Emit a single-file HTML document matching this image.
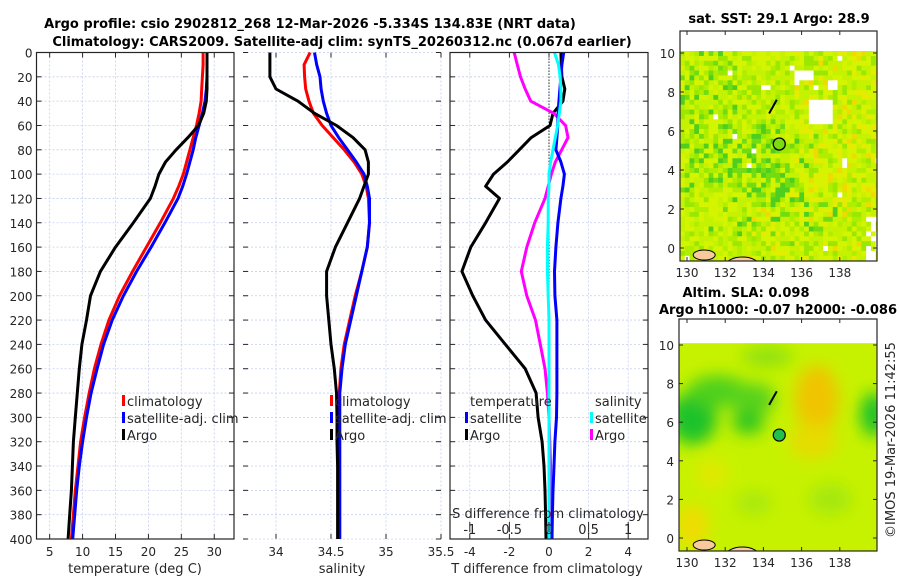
<!DOCTYPE html>
<html><head><meta charset="utf-8">
<style>
html,body{margin:0;padding:0;background:#fff;}
svg{display:block;font-family:"DejaVu Sans","Liberation Sans",sans-serif;}
.t{font-size:12px;fill:#262626;}
.l{font-size:13px;fill:#262626;}
.b{font-weight:bold;fill:#000;font-size:13px;}
</style></head>
<body>
<svg id="chart" width="900" height="580" viewBox="0 0 900 580" xmlns="http://www.w3.org/2000/svg">
<text class="b" x="310" y="28" text-anchor="middle">Argo profile: csio 2902812_268 12-Mar-2026 -5.334S 134.83E (NRT data)</text>
<text class="b" x="342" y="46" text-anchor="middle">Climatology: CARS2009. Satellite-adj clim: synTS_20260312.nc (0.067d earlier)</text>
<text class="b" x="779" y="23" text-anchor="middle">sat. SST: 29.1 Argo: 28.9</text>
<text class="b" x="746" y="297" text-anchor="middle">Altim. SLA: 0.098</text>
<text class="b" x="778" y="314" text-anchor="middle">Argo h1000: -0.07 h2000: -0.086</text>
<text class="l" transform="translate(895,440) rotate(-90)" text-anchor="middle">©IMOS 19-Mar-2026 11:42:55</text>
<g id="g"></g>
</svg>
<script>
// ---- data ----
const depths = [0,10,20,30,40,50,60,70,80,90,100,110,120,140,160,180,200,220,240,260,280,300,320,340,360,380,400];
const tempClim = [28.3,28.3,28.2,28.1,28.0,27.7,27.3,26.8,26.3,25.8,25.3,24.6,23.8,21.8,19.7,17.6,15.6,14.0,12.8,11.8,11.0,10.3,9.7,9.3,8.9,8.6,8.3];
const tempSat = [28.9,28.9,28.9,28.8,28.6,28.2,27.7,27.2,26.8,26.3,25.8,25.2,24.5,22.5,20.4,18.2,16.2,14.5,13.2,12.2,11.3,10.6,10.0,9.5,9.1,8.8,8.5];
const tempArgo = [28.9,28.9,28.9,28.9,28.8,28.4,27.6,26.0,24.2,22.6,21.6,21.0,20.3,17.7,15.0,12.7,11.2,10.6,9.9,9.5,9.2,8.9,8.6,8.45,8.3,8.05,7.8];
const salClim = [34.31,34.255,34.26,34.27,34.3,34.34,34.42,34.52,34.62,34.71,34.78,34.82,34.84,34.85,34.83,34.78,34.72,34.67,34.62,34.59,34.575,34.57,34.57,34.57,34.57,34.57,34.57];
const salSat = [34.35,34.37,34.4,34.41,34.43,34.46,34.5,34.57,34.65,34.73,34.8,34.83,34.85,34.85,34.83,34.78,34.73,34.68,34.63,34.6,34.58,34.58,34.58,34.58,34.58,34.58,34.58];
const salArgo = [33.945,33.945,33.945,34.0,34.2,34.35,34.55,34.7,34.81,34.84,34.84,34.8,34.76,34.65,34.54,34.46,34.46,34.48,34.5,34.53,34.55,34.555,34.555,34.56,34.56,34.56,34.56];
const dTsat = [0.74,0.65,0.6,0.55,0.5,0.46,0.44,0.4,0.35,0.6,0.78,0.7,0.6,0.45,0.35,0.28,0.3,0.4,0.4,0.4,0.4,0.38,0.3,0.25,0.2,0.17,0.15];
const dTargo = [0.6,0.62,0.65,0.8,0.7,0.2,0.05,-0.9,-1.5,-2.1,-2.8,-3.2,-2.5,-3.2,-3.95,-4.4,-3.85,-3.2,-2.2,-1.2,-0.65,-0.55,-0.35,-0.25,-0.2,-0.17,-0.15];
const dSsat = [0.07,0.12,0.14,0.15,0.15,0.13,0.11,0.08,0.05,0.02,0.0,0.0,-0.01,-0.01,-0.02,-0.02,-0.01,0.0,0.0,0.0,0.0,0.0,0.0,0.0,0.0,0.0,0.0];
const dSargo = [-0.44,-0.4,-0.36,-0.3,-0.23,0.06,0.21,0.24,0.16,0.08,0.03,-0.01,-0.05,-0.18,-0.28,-0.35,-0.28,-0.17,-0.11,-0.05,-0.02,0.0,0.01,0.02,0.02,0.02,0.02];
const depthTicks = [0,20,40,60,80,100,120,140,160,180,200,220,240,260,280,300,320,340,360,380,400];
const tempTicks = [5,10,15,20,25,30];
const salTicks = [34,34.5,35,35.5];
const salTickLabels = ["34","34.5","35","35.5"];
const dTTicks = [-4,-2,0,2,4];
const dSTicks = [-1,-0.5,0,0.5,1];
const dSTickLabels = ["-1","-0.5","0","0.5","1"];
const lonTicks = [130,132,134,136,138];
const latTicks = [0,2,4,6,8,10];
const argoLon = 134.83, argoLat = -5.334;

const NS="http://www.w3.org/2000/svg";
const G=document.getElementById('g');
function el(tag,attrs,parent){const e=document.createElementNS(NS,tag);for(const k in attrs)e.setAttribute(k,attrs[k]);(parent||G).appendChild(e);return e;}
function txt(s,x,y,anchor,parent,cls){const t=el('text',{x:x,y:y,'text-anchor':anchor||'middle','class':cls||'t'},parent);t.textContent=s;return t;}

const Y0=52.5,Y1=539;
const yD=d=>Y0+(d/400)*(Y1-Y0);
function panel(name,x0,x1,xmin,xmax){
  const sx=v=>x0+(v-xmin)/(xmax-xmin)*(x1-x0);
  const g=el('g',{});
  
  
  return {g,sx,x0,x1};
}
function grid(p,xt,showY){
  xt.forEach(v=>{const x=p.sx(v);
    const l=el('line',{x1:x,x2:x,y1:Y0,y2:Y1,stroke:'#c5cdef','stroke-width':0.8,'stroke-dasharray':'2,2'},p.g);
    
    el('line',{x1:x,x2:x,y1:Y1,y2:Y1-5,stroke:'#262626'},p.g);
    el('line',{x1:x,x2:x,y1:Y0,y2:Y0+5,stroke:'#262626'},p.g);
  });
  depthTicks.forEach(d=>{const y=yD(d);
    el('line',{x1:p.x0,x2:p.x1,y1:y,y2:y,stroke:'#c5cdef','stroke-width':0.8,'stroke-dasharray':'2,2'},p.g);
    el('line',{x1:p.x0,x2:p.x0+5,y1:y,y2:y,stroke:'#262626'},p.g);
    el('line',{x1:p.x1,x2:p.x1-5,y1:y,y2:y,stroke:'#262626'},p.g);
    if(showY){const t=txt(String(d),p.x0-4,y+5,'end',p.g);}
  });
}
function frame(p){el('rect',{x:p.x0,y:Y0,width:p.x1-p.x0,height:Y1-Y0,fill:'none',stroke:'#262626','stroke-width':1.2},p.g);}
function line(p,vals,color,name,sx){
  const f=sx||p.sx;
  const pts=vals.map((v,i)=>f(v).toFixed(1)+','+yD(depths[i]).toFixed(1)).join(' ');
  const l=el('polyline',{points:pts,fill:'none',stroke:color,'stroke-width':3,'stroke-linejoin':'round'},p.g);
  
}
function legend(p,x,y,color,label,name){
  el('rect',{x:x,y:y-11,width:3,height:11,fill:color},p.g);
  const t=txt(label,x+5,y,'start',p.g,'l');
  
}

// panel 1 temperature
const p1=panel('temperature-panel',36.5,234,3,33);
grid(p1,tempTicks,true);
line(p1,tempClim,'#ff0000','temp-climatology-line');
line(p1,tempSat,'#0000ff','temp-satellite-line');
line(p1,tempArgo,'#000000','temp-argo-line');
frame(p1);
tempTicks.forEach(v=>{const t=txt(String(v),p1.sx(v),556,'middle',p1.g);});
{const t=txt('temperature (deg C)',135,573,'middle',p1.g,'l');}
legend(p1,122,406,'#ff0000','climatology','legend-climatology');
legend(p1,122,423,'#0000ff','satellite-adj. clim','legend-satellite-adj');
legend(p1,122,440,'#000000','Argo','legend-argo');

// panel 2 salinity
const p2=panel('salinity-panel',243,441,33.7,35.5);
grid(p2,salTicks,false);
line(p2,salClim,'#ff0000','sal-climatology-line');
line(p2,salSat,'#0000ff','sal-satellite-line');
line(p2,salArgo,'#000000','sal-argo-line');
legend(p2,330,406,'#ff0000','climatology','legend-climatology-sal');
legend(p2,330,423,'#0000ff','satellite-adj. clim','legend-satellite-adj-sal');
legend(p2,330,440,'#000000','Argo','legend-argo-sal');
salTicks.forEach((v,i)=>{const t=txt(salTickLabels[i],p2.sx(v),556,'middle',p2.g);});
{const t=txt('salinity',342,573,'middle',p2.g,'l');}

// panel 3 differences
const p3=panel('difference-panel',450,648,-5,5);
const sS=v=>450+(v+1.25)/2.5*198;
grid(p3,dTTicks,false);
el('line',{x1:p3.sx(0),x2:p3.sx(0),y1:Y0,y2:Y1,stroke:'#333','stroke-width':1,'stroke-dasharray':'1.5,1.5'},p3.g);
line(p3,dTargo,'#000000','dT-argo-line');
line(p3,dSargo,'#ff00ff','dS-argo-line',sS);
line(p3,dTsat,'#0000ff','dT-satellite-line');
line(p3,dSsat,'#00ffff','dS-satellite-line',sS);
frame(p3);
legend(p3,465,406,'#ffffff','temperature','legend-title-temperature');
legend(p3,465,423,'#0000ff','satellite','legend-temp-satellite');
legend(p3,465,440,'#000000','Argo','legend-temp-argo');
legend(p3,590,406,'#ffffff','salinity','legend-title-salinity');
legend(p3,590,423,'#00ffff','satellite','legend-sal-satellite');
legend(p3,590,440,'#ff00ff','Argo','legend-sal-argo');
dSTicks.forEach((v,i)=>{const x=sS(v);el('line',{x1:x,x2:x,y1:522,y2:532,stroke:'#262626'},p3.g);
  const t=txt(dSTickLabels[i],x,534,'middle',p3.g,'l');});
{const t=txt('S difference from climatology',548,518,'middle',p3.g,'l');}
dTTicks.forEach(v=>{const t=txt(String(v),p3.sx(v),556,'middle',p3.g);});
{const t=txt('T difference from climatology',547,573,'middle',p3.g,'l');}

// ---- maps ----
function mapAxes(name,fx0,fx1,fy0,fy1,lat0y,latScale){
  const g=el('g',{});
  const mx=lon=>687+(lon-130)*19.1;
  const my=lat=>lat0y-lat*latScale;
  return {g,mx,my,fx0,fx1,fy0,fy1};
}
function hash(i,j,s){let h=(i*374761393+j*668265263+s*982451653)|0;h=(h^(h>>>13))*1274126177|0;h=h^(h>>>16);return ((h>>>0)%10000)/10000;}
function mapFrame(m,id){
  const cp=el('clipPath',{id:'land'+id},m.g);
  el('rect',{x:m.fx0,y:m.fy0,width:m.fx1-m.fx0,height:m.fy1-m.fy0},cp);
  const lg=el('g',{'clip-path':'url(#land'+id+')'},m.g);
  el('ellipse',{cx:m.mx(130.9),cy:m.fy1-6,rx:11,ry:5,fill:'#f7c99c',stroke:'#000','stroke-width':1},lg);
  el('ellipse',{cx:m.mx(132.9),cy:m.fy1+5,rx:17,ry:9,fill:'#f7c99c',stroke:'#000','stroke-width':1},lg);
  el('path',{d:`M${m.mx(134.3)} ${m.my(6.9)} L${m.mx(134.7)} ${m.my(7.6)}`,stroke:'#000','stroke-width':2},m.g);
  el('rect',{x:m.fx0,y:m.fy0,width:m.fx1-m.fx0,height:m.fy1-m.fy0,fill:'none',stroke:'#262626','stroke-width':1.2},m.g);
  lonTicks.forEach(v=>{const x=m.mx(v);el('line',{x1:x,x2:x,y1:m.fy1,y2:m.fy1-4,stroke:'#262626'},m.g);el('line',{x1:x,x2:x,y1:m.fy0,y2:m.fy0+4,stroke:'#262626'},m.g);
    const t=txt(String(v),x,m.fy1+16,'middle',m.g);});
  latTicks.forEach(v=>{const y=m.my(v);el('line',{x1:m.fx0,x2:m.fx0+4,y1:y,y2:y,stroke:'#262626'},m.g);el('line',{x1:m.fx1,x2:m.fx1-4,y1:y,y2:y,stroke:'#262626'},m.g);
    const t=txt(String(v),m.fx0-5,y+5,'end',m.g);});
}
// SST map
const m1=mapAxes('sst-map',680,877,31,261,248,19.5);
{
  const cp=el('clipPath',{id:'cp1'},m1.g);
  el('rect',{x:680,y:31,width:197,height:230},cp);
  const gg=el('g',{'clip-path':'url(#cp1)'},m1.g);
  const x0=m1.mx(129.63),yTop=m1.my(10.1),cw=19.1/4,ch=19.5/4;
  const cols=['#c4f200','#b0ee00','#d4f400','#9ae800','#72dc12','#4ece1e','#e4ec00','#eedc00'];
  el('rect',{x:680,y:yTop,width:197,height:261-yTop,fill:'#bff000'},gg);
  for(let i=0;i<42;i++)for(let j=0;j<44;j++){
    const lon=129.63+i*0.25,lat=10.1-j*0.25;
    const r=hash(i,j,1);
    let gr=Math.exp(-((lon-133.8)**2/3+(lat-4)**2/4))*0.55 + (lon<132.5&&lat>3?0.15:0)+(lon>136&&lon<138&&lat>1&&lat<2.5?0.2:0);
    let ye=(lon>135.5&&lat>2?0.3:0)+(lat<3&&lon>133?0.12:0);
    let k;
    if(r<gr*0.55)k=5; else if(r<gr)k=4; else if(r<gr+ye*0.55)k=6; else if(r<gr+ye*0.75)k=7; else k=[0,1,2,3,0,2][Math.floor(hash(i,j,2)*6)];
    let col=cols[k];
    if((lon>136.2&&lon<137.6&&lat>6.5&&lat<7.8)||(lon>135.6&&lon<136.6&&lat>8.6&&lat<9.3)||(lon>137.2&&lon<137.8&&lat>8.3&&lat<8.8)||(hash(i,j,3)<0.008)||(lon>139.2&&lat<1.8&&hash(i,j,4)<0.5))col='#ffffff';
    el('rect',{x:(x0+i*cw).toFixed(2),y:(yTop+j*ch).toFixed(2),width:cw+0.3,height:ch+0.3,fill:col},gg);
  }
}
{
  const c=el('circle',{cx:m1.mx(argoLon),cy:m1.my(-argoLat),r:6,fill:'#7cdc10',stroke:'#000','stroke-width':1.3},m1.g);
  
}
mapFrame(m1,1);
// SLA map
const m2=mapAxes('sla-map',679,877,319,551,538,19.3);
{
  const defs=el('defs',{},m2.g);
  const f=el('filter',{id:'bl',x:'-50%',y:'-50%',width:'200%',height:'200%'},defs);
  el('feGaussianBlur',{stdDeviation:8},f);
  const cp=el('clipPath',{id:'cp2'},defs);
  el('rect',{x:679,y:m2.my(10.1),width:198,height:551-m2.my(10.1)},cp);
  const g=el('g',{'clip-path':'url(#cp2)'},m2.g);
  el('rect',{x:679,y:m2.my(10.1),width:198,height:260,fill:'#c6f200'},g);
  const bg=el('g',{filter:'url(#bl)'},g);
  const blobs=[[130.3,6.2,24,26,'#1fc22a'],[131.6,7.6,30,16,'#4ed01c'],[133.4,7.2,24,16,'#58d21a'],[133.2,6.0,16,12,'#2cc624'],[134.2,9.4,26,10,'#8ee010'],[139.8,6.4,14,22,'#1fc22a'],[136.8,7.2,22,34,'#f0c400'],[136.6,5.0,24,18,'#e6dc00'],[131.3,3.3,16,14,'#e2e800'],[130.3,0.6,16,22,'#f0dc00'],[137.5,2,22,16,'#a6e808'],[133.5,1.8,18,12,'#a8e808']];
  blobs.forEach(b=>el('ellipse',{cx:m2.mx(b[0]),cy:m2.my(b[1]),rx:b[2],ry:b[3],fill:b[4]},bg));
}
{
  const c=el('circle',{cx:m2.mx(argoLon),cy:m2.my(-argoLat),r:6,fill:'#22c04a',stroke:'#000','stroke-width':1.2},m2.g);
  
}
mapFrame(m2,2);
</script>
</body></html>
